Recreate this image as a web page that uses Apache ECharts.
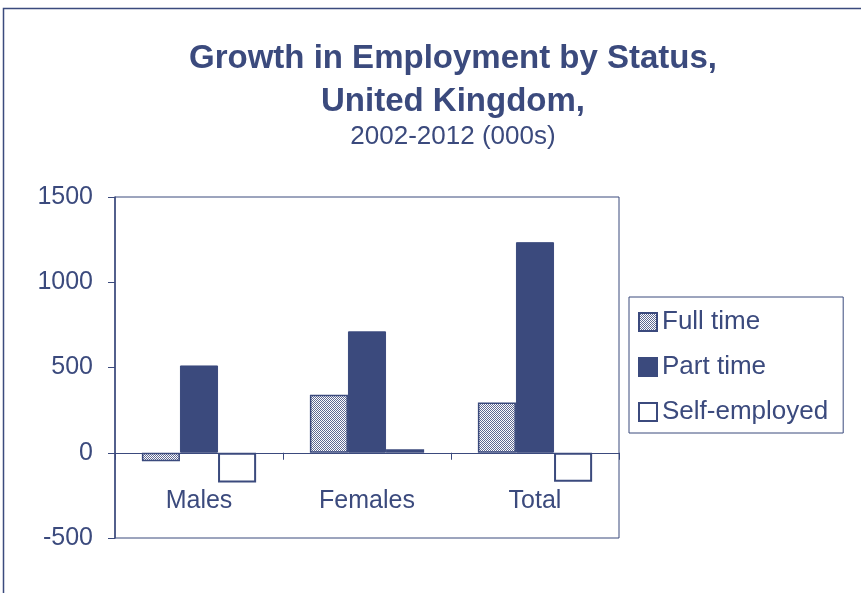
<!DOCTYPE html>
<html>
<head>
<meta charset="utf-8">
<script src="https://cdn.jsdelivr.net/npm/echarts@6/dist/echarts.min.js"></script>
<style>
  html, body { margin: 0; padding: 0; background: #fff; }
  #chart { width: 861px; height: 593px; }
</style>
</head>
<body>
<div id="chart"></div>
<script>
const categories = ['Males', 'Females', 'Total']
const fullTime = [-50, 340, 295]
const partTime = [512, 712, 1235]
const selfEmployed = [-175, 20, -170]
const yTicks = [-500, 0, 500, 1000, 1500]

const navy = '#3b4a7d'
const font = 'Liberation Sans, Arial, sans-serif'

// stipple fill for the full time bars
const pat = document.createElement('canvas')
pat.width = 2
pat.height = 2
const pctx = pat.getContext('2d')
pctx.fillStyle = '#ffffff'
pctx.fillRect(0, 0, 2, 2)
pctx.fillStyle = '#5f6a92'
pctx.fillRect(0, 0, 1, 1)
pctx.fillRect(1, 1, 1, 1)

const myChart = echarts.init(document.getElementById('chart'))

const option = {
  animation: false,
  backgroundColor: '#fff',
  title: {
    text: 'Growth in Employment by Status,\nUnited Kingdom,',
    subtext: '2002-2012 (000s)',
    left: 448,
    top: 32,
    textAlign: 'center',
    itemGap: 1,
    textStyle: { fontFamily: font, fontSize: 33, fontWeight: 'bold', color: navy, lineHeight: 43 },
    subtextStyle: { fontFamily: font, fontSize: 26, color: navy }
  },
  legend: {
    orient: 'vertical',
    left: 629,
    top: 297,
    itemWidth: 18,
    itemHeight: 18,
    itemGap: 19,
    padding: [12, 15, 8, 9],
    borderColor: navy,
    borderWidth: 1,
    icon: 'rect',
    textStyle: { fontFamily: font, fontSize: 26, color: navy },
    data: ['Full time', 'Part time', 'Self-employed']
  },
  grid: {
    left: 115,
    right: 242,
    top: 197,
    bottom: 55,
    show: true,
    borderColor: navy,
    borderWidth: 1
  },
  xAxis: {
    type: 'category',
    data: categories,
    axisLine: { onZero: true, lineStyle: { color: navy, width: 1 } },
    axisTick: { show: true, inside: false, length: 7, lineStyle: { color: navy } },
    axisLabel: { margin: -49, fontFamily: font, fontSize: 25, color: navy }
  },
  yAxis: {
    type: 'value',
    min: yTicks[0],
    max: yTicks[yTicks.length - 1],
    interval: 500,
    axisLine: { show: true, lineStyle: { color: navy, width: 1.5 } },
    axisTick: { show: true, length: 7, lineStyle: { color: navy } },
    splitLine: { show: false },
    axisLabel: {
      margin: 22,
      fontFamily: font,
      fontSize: 25,
      color: navy,
      formatter: (v) => String(v)
    }
  },
  series: [
    {
      name: 'Full time',
      type: 'bar',
      data: fullTime,
      barGap: '0%',
      barCategoryGap: '32%',
      itemStyle: {
        color: { image: pat, repeat: 'repeat' },
        borderColor: navy,
        borderWidth: 1.5
      }
    },
    {
      name: 'Part time',
      type: 'bar',
      data: partTime,
      itemStyle: { color: navy, borderColor: navy, borderWidth: 1 }
    },
    {
      name: 'Self-employed',
      type: 'bar',
      data: selfEmployed,
      itemStyle: { color: '#fff', borderColor: navy, borderWidth: 2 }
    }
  ],
  graphic: [
    {
      // outer frame of the original chart
      type: 'rect',
      shape: { x: 3.5, y: 8.5, width: 900, height: 700 },
      style: { fill: null, stroke: navy, lineWidth: 1.5 },
      silent: true
    }
  ]
}
myChart.setOption(option)
</script>
</body>
</html>
